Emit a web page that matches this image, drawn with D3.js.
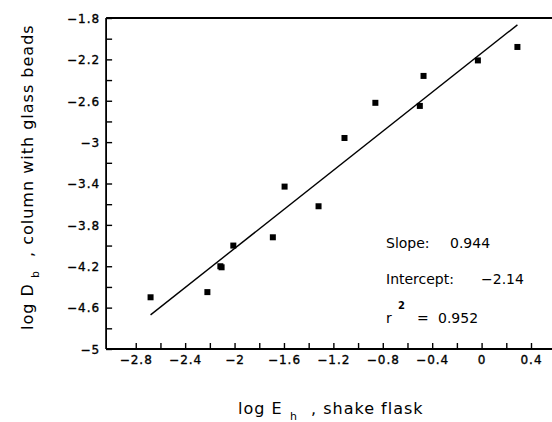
<!DOCTYPE html>
<html>
<head>
<meta charset="utf-8">
<script src="https://cdn.jsdelivr.net/npm/d3@7"></script>
<style>
  html, body { margin: 0; padding: 0; background: #fff; overflow: hidden; }
  svg { display: block; }
  text, tspan { font-family: "DejaVu Sans", sans-serif; fill: #000; }
</style>
</head>
<body>
<svg id="chart" width="552" height="422"></svg>
<script>
// log E_h (shake flask) vs log D_b (column with glass beads)
const logE = [-2.68, -2.22, -2.115, -2.105, -2.01, -1.69, -1.595, -1.32, -1.11, -0.86, -0.50, -0.47, -0.03, 0.29];
const logD = [-4.50, -4.45, -4.20, -4.21, -4.00, -3.92, -3.43, -3.62, -2.96, -2.62, -2.65, -2.36, -2.21, -2.08];

// regression summary
const slope = 0.944;
const intercept = -2.14;
const r2 = 0.952;

// axis ticks
const xTicks = [-2.8, -2.6, -2.4, -2.2, -2.0, -1.8, -1.6, -1.4, -1.2, -1.0, -0.8, -0.6, -0.4, -0.2, 0, 0.2, 0.4];
const xLabels = [-2.8, -2.4, -2.0, -1.6, -1.2, -0.8, -0.4, 0, 0.4];
const yTicks = [-5, -4.8, -4.6, -4.4, -4.2, -4, -3.8, -3.6, -3.4, -3.2, -3, -2.8, -2.6, -2.4, -2.2, -2, -1.8];
const yLabels = [-5, -4.6, -4.2, -3.8, -3.4, -3, -2.6, -2.2, -1.8];

const svg = d3.select("#chart");
const fmt = d3.format("~g");

const x = d3.scaleLinear().domain([-3.04, 0.6]).range([106.1, 555.7]);
const y = d3.scaleLinear().domain([-5, -1.8]).range([349, 18]);

const tickLen = 6;

// frame: left side plus top and bottom running past the right edge
const frame = svg.append("g").attr("stroke", "#000").attr("stroke-width", 1.8).attr("fill", "none");
frame.append("line").attr("x1", x.range()[0]).attr("x2", 560).attr("y1", y(-1.8)).attr("y2", y(-1.8));
frame.append("line").attr("x1", x.range()[0]).attr("x2", 560).attr("y1", y(-5)).attr("y2", y(-5));
frame.append("line").attr("x1", x.range()[0]).attr("x2", x.range()[0]).attr("y1", y(-1.8)).attr("y2", y(-5));

// bottom axis: inward ticks
const xAxis = d3.axisBottom(x).tickValues(xTicks).tickSizeInner(-tickLen).tickSizeOuter(0)
  .tickFormat(d => xLabels.some(v => Math.abs(v - d) < 1e-9) ? fmt(d) : "");
const gx = svg.append("g").attr("transform", `translate(0,${y(-5)})`).call(xAxis);
gx.select(".domain").remove();
gx.selectAll(".tick line").attr("stroke", "#000").attr("stroke-width", 1.4);
gx.selectAll(".tick text").attr("y", 6).attr("dy", "0.71em")
  .style("font-size", "12px").style("letter-spacing", "1px")
  .attr("stroke", "#000").attr("stroke-width", 0.35);

// left axis: inward ticks
const yAxis = d3.axisLeft(y).tickValues(yTicks).tickSizeInner(-tickLen).tickSizeOuter(0)
  .tickFormat(d => yLabels.some(v => Math.abs(v - d) < 1e-9) ? fmt(d) : "");
const gy = svg.append("g").attr("transform", `translate(${x.range()[0]},0)`).call(yAxis);
gy.select(".domain").remove();
gy.selectAll(".tick line").attr("stroke", "#000").attr("stroke-width", 1.4);
gy.selectAll(".tick text").attr("x", -6).attr("dy", "0.36em")
  .style("font-size", "12px").style("letter-spacing", "1px")
  .attr("stroke", "#000").attr("stroke-width", 0.35);

// regression line over the data range
const [xMin, xMax] = d3.extent(logE);
svg.append("line")
  .attr("x1", x(xMin)).attr("y1", y(slope * xMin + intercept))
  .attr("x2", x(xMax)).attr("y2", y(slope * xMax + intercept))
  .attr("stroke", "#000").attr("stroke-width", 1.4);

// data points: filled squares
const sq = 6;
svg.append("g").selectAll("rect")
  .data(logE.map((e, i) => [e, logD[i]]))
  .join("rect")
  .attr("x", d => x(d[0]) - sq / 2)
  .attr("y", d => y(d[1]) - sq / 2)
  .attr("width", sq).attr("height", sq)
  .attr("fill", "#000");

// statistics block
const stats = svg.append("g").style("font-size", "14px");
stats.append("text").attr("x", 386).attr("y", 248)
  .text("Slope:").append("tspan").attr("x", 450).text(d3.format(".3f")(slope));
stats.append("text").attr("x", 386).attr("y", 284)
  .text("Intercept:").append("tspan").attr("x", 481).text(fmt(intercept));
const r2t = stats.append("text").attr("x", 386).attr("y", 323);
r2t.append("tspan").text("r");
r2t.append("tspan").attr("x", 398).attr("y", 309).style("font-size", "10px").style("font-weight", "bold").text("2");
r2t.append("tspan").attr("x", 417).attr("y", 323).text("=");
r2t.append("tspan").attr("x", 438).text(d3.format(".3f")(r2));

// axis title builder: main text, lowered subscript, then the rest
function axisTitle(g, main, sub, rest) {
  const t = g.append("text").style("font-size", "16px").style("letter-spacing", "1px");
  t.append("tspan").attr("x", 0).attr("y", 0).text(main);
  t.append("tspan").attr("x", 52).attr("y", 6).style("font-size", "11px").style("letter-spacing", "0px").text(sub);
  t.append("tspan").attr("x", 73).attr("y", 0).text(", " + rest);
}

axisTitle(svg.append("g").attr("transform", "translate(238,414)"), "log E", "h", "shake flask");
axisTitle(svg.append("g").attr("transform", "translate(33,330) rotate(-90)"), "log D", "b", "column with glass beads");
</script>
</body>
</html>
